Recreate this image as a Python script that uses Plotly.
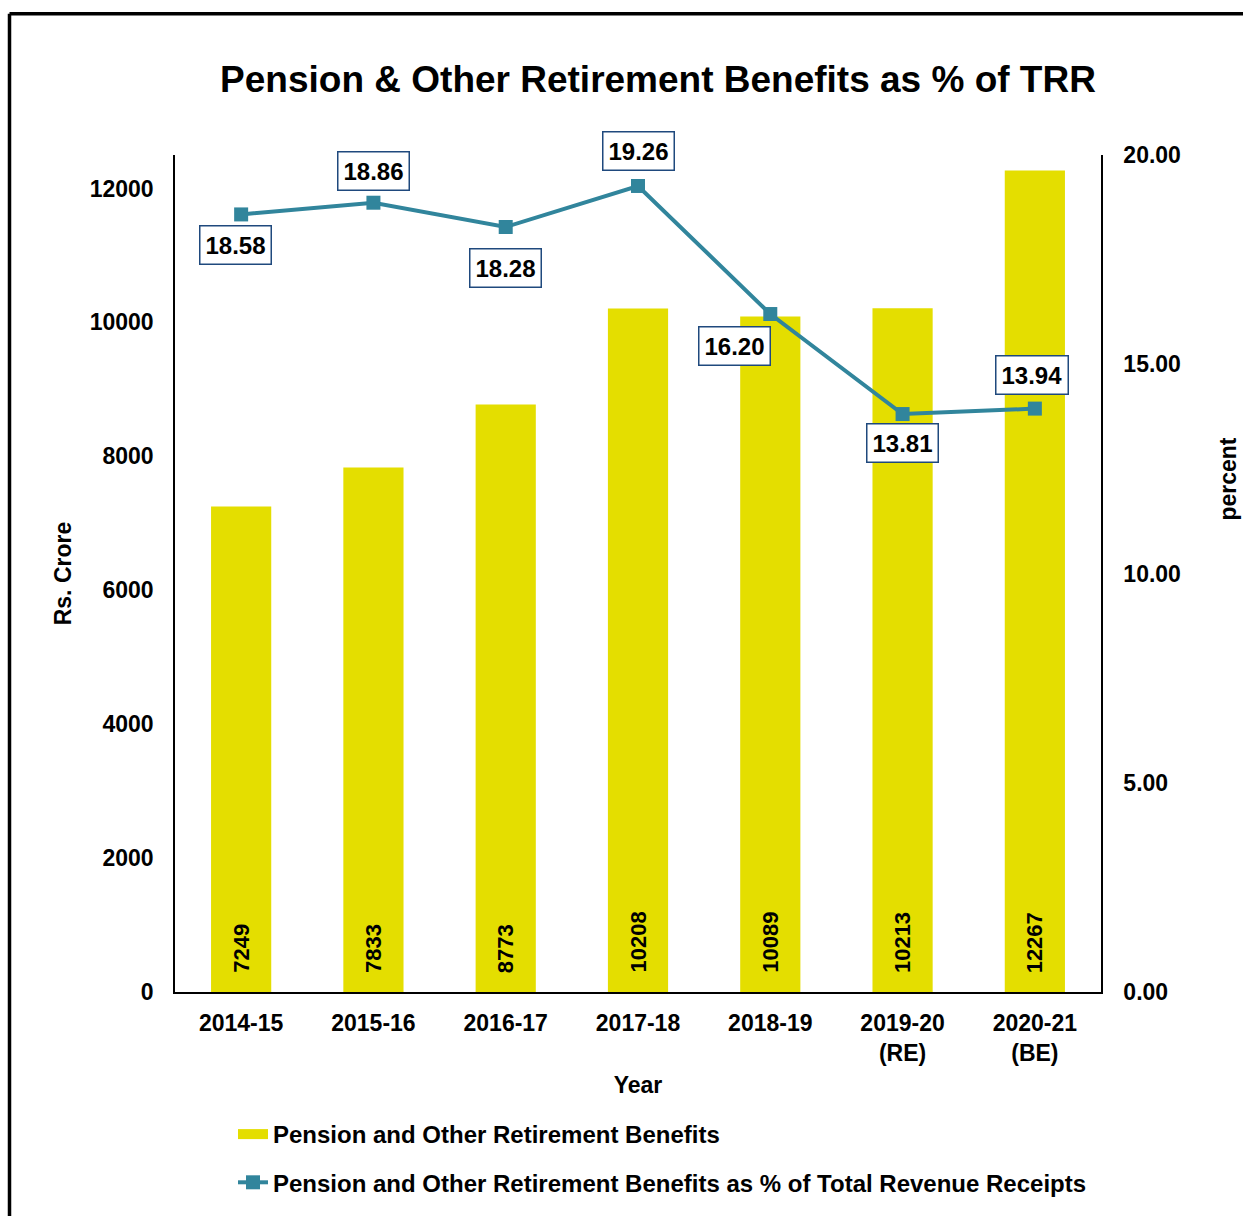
import plotly.graph_objects as go

years = ["2014-15", "2015-16", "2016-17", "2017-18", "2018-19", "2019-20<br>(RE)", "2020-21<br>(BE)"]
pension = [7249, 7833, 8773, 10208, 10089, 10213, 12267]
pct_trr = [18.58, 18.86, 18.28, 19.26, 16.20, 13.81, 13.94]

# label placement styling (pixels offsets relative to each point)
label_yshift = [-31, 32, -41, 35, -32, -29, 34]
label_xshift = [-6, 0, 0, 0, -36, 0, -3]

BAR = "#E4DE00"
LINE = "#31859C"
FONT = "Liberation Sans, Arial, sans-serif"

W, H = 1243, 1216
L, T = 175, 155
pw, ph = 926, 838
R, B = W - L - pw, H - T - ph

fig = go.Figure()
fig.add_trace(go.Bar(
    x=years, y=pension, name="Pension and Other Retirement Benefits",
    marker=dict(color=BAR, line=dict(width=0)), width=0.455,
    showlegend=False,
))
# legend proxy for the bar series (wide rectangular swatch)
fig.add_trace(go.Scatter(
    x=[None], y=[None], mode="lines", name="Pension and Other Retirement Benefits",
    line=dict(color=BAR, width=14), legendgroup="a",
))
fig.add_trace(go.Scatter(
    x=years, y=pct_trr, yaxis="y2", mode="lines+markers",
    name="Pension and Other Retirement Benefits as % of Total Revenue Receipts",
    line=dict(color=LINE, width=4), marker=dict(symbol="square", size=14, color=LINE),
    legendgroup="b",
))

for x, v in zip(years, pension):
    fig.add_annotation(
        x=x, y=0, xref="x", yref="y", text=f"<b>{v}</b>", showarrow=False,
        textangle=-90, yanchor="bottom", yshift=17,
        font=dict(family=FONT, size=22, color="black"),
    )

for x, v, ys, xs in zip(years, pct_trr, label_yshift, label_xshift):
    fig.add_annotation(
        x=x, y=v, yref="y2", xref="x", text=f"<b>{v:.2f}</b>", showarrow=False,
        yshift=ys, xshift=xs,
        font=dict(family=FONT, size=24, color="black"),
        bgcolor="white", bordercolor="#1F497D", borderwidth=1.5, borderpad=5,
    )

# right axis title (placed above centre, as in the reference)
fig.add_annotation(
    x=(1228 - L) / pw, y=(993 - 480) / ph, xref="paper", yref="paper",
    text="<b>percent</b>", textangle=-90, showarrow=False,
    xanchor="center", yanchor="middle",
    font=dict(family=FONT, size=23, color="black"),
)

# outer frame (partially visible in reference)
fx0 = (9.5 - L) / pw
fy1 = (993 - 13.5) / ph
fig.add_shape(type="line", xref="paper", yref="paper", x0=fx0, x1=fx0, y0=-0.5, y1=fy1,
              line=dict(color="black", width=3.5))
fig.add_shape(type="line", xref="paper", yref="paper", x0=fx0, x1=1.5, y0=fy1, y1=fy1,
              line=dict(color="black", width=3.5))

axfont = dict(family=FONT, size=23, color="black", weight="bold")
fig.update_layout(
    width=W, height=H,
    margin=dict(l=L, r=R, t=T, b=B),
    paper_bgcolor="white", plot_bgcolor="white",
    font=dict(family=FONT, color="black"),
    title=dict(text="<b>Pension & Other Retirement Benefits as % of TRR</b>",
               x=658 / W, xanchor="center", y=1 - 79 / H, yanchor="middle",
               font=dict(family=FONT, size=37, color="black")),
    xaxis=dict(showline=True, linecolor="black", linewidth=1.5, ticks="",
               tickfont=axfont, ticklabelstandoff=10,
               title=dict(text="<b>Year</b>", font=dict(family=FONT, size=23, color="black"), standoff=12)),
    yaxis=dict(range=[0, 12500], dtick=2000, tickformat="d", showline=True, linecolor="black", linewidth=1.5,
               showgrid=False, zeroline=False, ticks="", tickfont=axfont, ticklabelstandoff=15,
               title=dict(text="<b>Rs. Crore</b>", font=dict(family=FONT, size=23, color="black"), standoff=12)),
    yaxis2=dict(range=[0, 20], dtick=5, tickformat=".2f", overlaying="y", side="right",
                showline=True, linecolor="black", linewidth=1.5, showgrid=False, zeroline=False,
                ticks="", tickfont=axfont, ticklabelstandoff=16),
    legend=dict(x=(233 - L) / pw, y=(993 - 1112) / ph, xanchor="left", yanchor="top",
                orientation="v", traceorder="grouped", tracegroupgap=14,
                font=dict(family=FONT, size=24, color="black", weight="bold"),
                bgcolor="rgba(0,0,0,0)"),
    showlegend=True,
)

fig.write_html(
    "out.html",
    config={"displayModeBar": False},
    post_script="document.body.style.margin='0';document.body.style.overflow='hidden';",
)
